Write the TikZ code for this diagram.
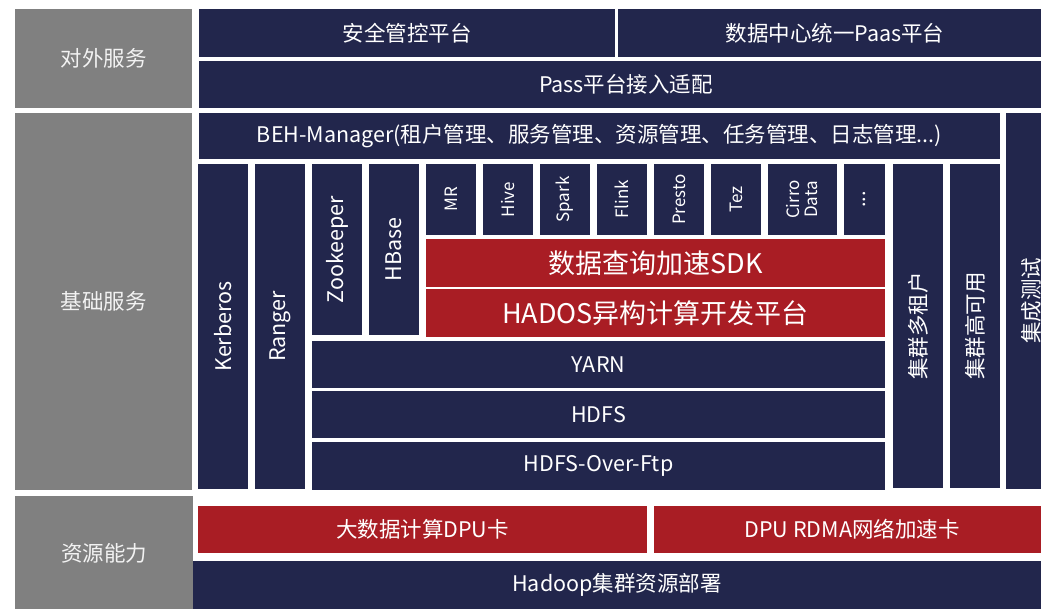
\documentclass[tikz,border=0pt]{standalone}
\usepackage{fontspec}
\setmainfont{Noto Sans CJK SC}
\definecolor{navy}{RGB}{34,38,76}
\definecolor{brick}{RGB}{169,29,36}
\definecolor{slate}{RGB}{128,128,128}
\tikzset{
  blk/.style={shape=rectangle, inner sep=0pt, text=white, font=\fontsize{21.5}{24}\selectfont},
  darkblk/.style={blk, fill=navy},
  redblk/.style={blk, fill=brick},
  greyblk/.style={blk, fill=slate, text=white!95!black},
  tallblk/.style={darkblk, rotate=90},
  appblk/.style={darkblk, rotate=90, font=\fontsize{17}{18}\selectfont, align=center, minimum width=71pt, minimum height=50pt},
}

\begin{document}
\begin{tikzpicture}
\useasboundingbox (0,0) rectangle (1041pt,-609pt);
\clip (0,0) rectangle (1041pt,-609pt);
% layer names
\node [greyblk, minimum width=177pt, minimum height=99pt]  (outer)    at (103.5pt, -58.5pt)  {对外服务};
\node [greyblk, minimum width=177pt, minimum height=377pt] (basic)    at (103.5pt, -301.5pt) {基础服务};
\node [greyblk, minimum width=178pt, minimum height=115pt] (resource) at (104pt, -553.5pt)   {资源能力};
% external services
\node [darkblk, minimum width=416pt, minimum height=48pt] (security) at (407pt, -33pt)   {安全管控平台};
\node [darkblk, minimum width=434pt, minimum height=48pt] (paas)     at (835pt, -33pt)   {数据中心统一Paas平台};
\node [darkblk, minimum width=854pt, minimum height=47pt] (adapt)    at (626pt, -84.5pt) {Pass平台接入适配};
% basic services
\node [darkblk, minimum width=801pt, minimum height=46pt] (beh) at (599.5pt, -136pt)
  {BEH-Manager(租户管理、服务管理、资源管理、任务管理、日志管理...)};
\node [tallblk, minimum width=376pt, minimum height=50pt] (itest)    at (1031pt, -301pt)  {集成测试};
\node [tallblk, minimum width=325pt, minimum height=50pt] (kerberos) at (223pt, -326.5pt)  {Kerberos};
\node [tallblk, minimum width=325pt, minimum height=50pt] (ranger)   at (280pt, -326.5pt)  {Ranger};
\node [tallblk, minimum width=171pt, minimum height=50pt] (zk)       at (337pt, -249.5pt)  {Zookeeper};
\node [tallblk, minimum width=171pt, minimum height=50pt] (hbase)    at (394pt, -249.5pt)  {HBase};
\node [appblk] (mr)     at (451pt, -199.5pt) {MR};
\node [appblk] (hive)   at (508pt, -199.5pt) {Hive};
\node [appblk] (spark)  at (565pt, -199.5pt) {Spark};
\node [appblk] (flink)  at (622pt, -199.5pt) {Flink};
\node [appblk] (presto) at (679pt, -199.5pt) {Presto};
\node [appblk] (tez)    at (736pt, -199.5pt) {Tez};
\node [appblk, minimum height=69pt] (cirro) at (802.5pt, -199.5pt) {Cirro\\Data};
\node [appblk, minimum height=41pt, font=\fontsize{20}{20}\selectfont] (more)  at (864.5pt, -199.5pt) {...};
\node [redblk, minimum width=459pt, minimum height=48pt, font=\fontsize{27}{30}\selectfont] (sdk)   at (655.5pt, -263pt) {数据查询加速SDK};
\node [redblk, minimum width=459pt, minimum height=48pt, font=\fontsize{27}{30}\selectfont] (hados) at (655.5pt, -313pt) {HADOS异构计算开发平台};
\node [darkblk, minimum width=573pt, minimum height=47pt] (yarn) at (598.5pt, -364.5pt) {YARN};
\node [darkblk, minimum width=573pt, minimum height=47pt] (hdfs) at (598.5pt, -414.5pt) {HDFS};
\node [darkblk, minimum width=573pt, minimum height=48pt] (ftp)  at (598.5pt, -466pt)   {HDFS-Over-Ftp};
\node [tallblk, minimum width=324pt, minimum height=50pt] (tenant) at (918pt, -326pt) {集群多租户};
\node [tallblk, minimum width=324pt, minimum height=50pt] (ha)     at (975pt, -326pt) {集群高可用};
% resources
\node [redblk, minimum width=449pt, minimum height=47pt] (dpu)    at (422.5pt, -529.5pt) {大数据计算DPU卡};
\node [redblk, minimum width=396pt, minimum height=47pt] (rdma)   at (852pt, -529.5pt)   {DPU RDMA网络加速卡};
\node [darkblk, minimum width=848pt, minimum height=48pt] (hadoop) at (617pt, -585pt)    {Hadoop集群资源部署};
\end{tikzpicture}
\end{document}
